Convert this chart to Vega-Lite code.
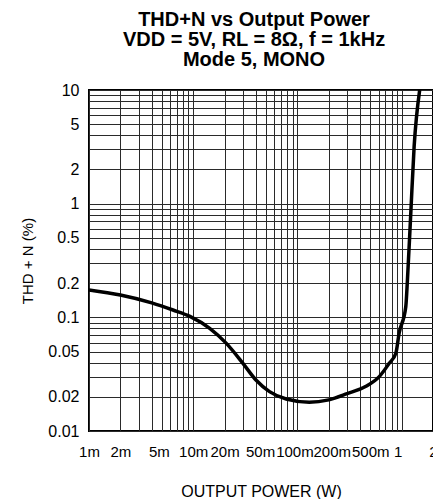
{
  "$schema": "https://vega.github.io/schema/vega-lite/v6.json",
  "autosize": "none",
  "padding": {"left": 89, "top": 90, "right": 0, "bottom": 68},
  "width": 344,
  "height": 341,
  "background": "white",
  "title": {
    "text": ["THD+N vs Output Power", "VDD = 5V, RL = 8Ω, f = 1kHz", "Mode 5, MONO"],
    "font": "Liberation Sans",
    "fontSize": 20,
    "fontWeight": "bold",
    "lineHeight": 20,
    "color": "black",
    "anchor": "middle",
    "frame": "group",
    "dx": -7,
    "offset": 12
  },
  "config": {
    "view": {"stroke": "black", "strokeWidth": 2},
    "axis": {
      "domain": false,
      "ticks": false,
      "grid": true,
      "gridColor": "#2a2a2a",
      "gridOpacity": 1,
      "gridWidth": 1,
      "labelFont": "Liberation Sans",
      "labelColor": "black",
      "labelOverlap": false,
      "labelBound": false,
      "labelFlush": false,
      "titleFont": "Liberation Sans",
      "titleFontWeight": "normal",
      "titleColor": "black"
    }
  },
  "data": {
    "values": [
      {"power": 0.001, "thdn": 0.174},
      {"power": 0.002, "thdn": 0.157},
      {"power": 0.004, "thdn": 0.134},
      {"power": 0.0064, "thdn": 0.116},
      {"power": 0.0093, "thdn": 0.102},
      {"power": 0.0144, "thdn": 0.080},
      {"power": 0.0208, "thdn": 0.059},
      {"power": 0.030, "thdn": 0.0394},
      {"power": 0.040, "thdn": 0.0281},
      {"power": 0.054, "thdn": 0.0222},
      {"power": 0.078, "thdn": 0.0191},
      {"power": 0.13, "thdn": 0.0179},
      {"power": 0.2, "thdn": 0.0188},
      {"power": 0.3, "thdn": 0.0213},
      {"power": 0.45, "thdn": 0.0246},
      {"power": 0.61, "thdn": 0.0301},
      {"power": 0.76, "thdn": 0.0394},
      {"power": 0.88, "thdn": 0.0483},
      {"power": 0.946, "thdn": 0.0724},
      {"power": 1.096, "thdn": 0.124},
      {"power": 1.137, "thdn": 0.213},
      {"power": 1.224, "thdn": 0.822},
      {"power": 1.318, "thdn": 3.17},
      {"power": 1.49, "thdn": 10}
    ]
  },
  "mark": {"type": "line", "color": "black", "strokeWidth": 3.5, "interpolate": "monotone", "clip": true},
  "encoding": {
    "x": {
      "field": "power",
      "type": "quantitative",
      "scale": {"type": "log", "domain": [0.001, 2], "nice": false},
      "axis": {
        "title": "OUTPUT POWER (W)",
        "titleFontSize": 16,
        "titlePadding": 24,
        "labelFontSize": 15,
        "labelPadding": 13,
        "labelOffset": {
          "condition": [
            {"test": "datum.value == 0.005", "value": -3},
            {"test": "datum.value == 0.05", "value": -6},
            {"test": "datum.value == 0.1", "value": -3},
            {"test": "datum.value == 0.2", "value": 3},
            {"test": "datum.value == 1", "value": -4}
          ],
          "value": 0
        },
        "values": [0.001, 0.002, 0.003, 0.004, 0.005, 0.006, 0.007, 0.008, 0.009, 0.01, 0.02, 0.03, 0.04, 0.05, 0.06, 0.07, 0.08, 0.09, 0.1, 0.2, 0.3, 0.4, 0.5, 0.6, 0.7, 0.8, 0.9, 1, 2],
        "labelExpr": "indexof([0.001, 0.002, 0.005, 0.01, 0.02, 0.05, 0.1, 0.2, 0.5], datum.value) >= 0 ? (round(datum.value * 1000) + 'm') : ((datum.value == 1 || datum.value == 2) ? (datum.value + '') : '')"
      }
    },
    "y": {
      "field": "thdn",
      "type": "quantitative",
      "scale": {"type": "log", "domain": [0.01, 10], "nice": false},
      "axis": {
        "title": "THD + N (%)",
        "titleFontSize": 15,
        "titlePadding": 12,
        "labelFontSize": 16,
        "labelPadding": 10,
        "values": [0.01, 0.02, 0.03, 0.04, 0.05, 0.06, 0.07, 0.08, 0.09, 0.1, 0.2, 0.3, 0.4, 0.5, 0.6, 0.7, 0.8, 0.9, 1, 2, 3, 4, 5, 6, 7, 8, 9, 10],
        "labelExpr": "indexof([0.01, 0.02, 0.05, 0.1, 0.2, 0.5, 1, 2, 5, 10], datum.value) >= 0 ? (datum.value + '') : ''"
      }
    }
  }
}
